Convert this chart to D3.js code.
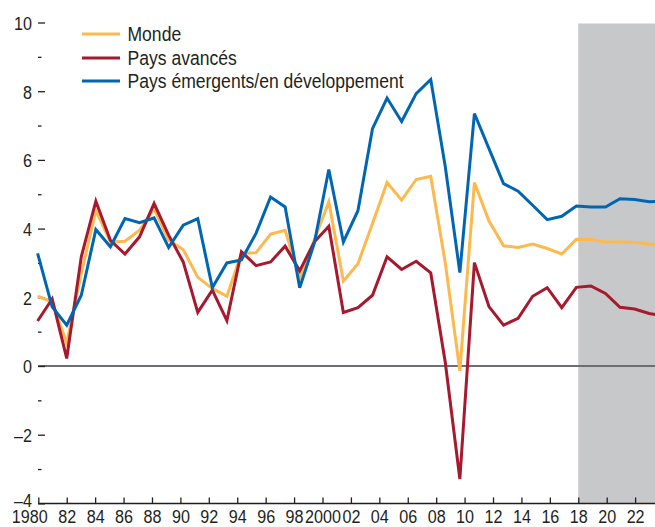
<!DOCTYPE html>
<html>
<head>
<meta charset="utf-8">
<script src="https://cdn.jsdelivr.net/npm/d3@7/dist/d3.min.js"></script>
<style>
  body { margin: 0; background: #fff; }
  text { font-family: "Liberation Sans", Arial, sans-serif; fill: #231f20; }
</style>
</head>
<body>
<svg width="655" height="527"></svg>
<script>
// annees 1980-2023
var annees = [1980, 1981, 1982, 1983, 1984, 1985, 1986, 1987, 1988, 1989,
              1990, 1991, 1992, 1993, 1994, 1995, 1996, 1997, 1998, 1999,
              2000, 2001, 2002, 2003, 2004, 2005, 2006, 2007, 2008, 2009,
              2010, 2011, 2012, 2013, 2014, 2015, 2016, 2017, 2018, 2019,
              2020, 2021, 2022, 2023];

var monde = [2.03, 1.87, 0.66, 2.7, 4.53, 3.61, 3.63, 3.95, 4.58, 3.66,
             3.39, 2.58, 2.26, 2.03, 3.28, 3.3, 3.84, 3.95, 2.55, 3.66,
             4.78, 2.47, 2.98, 4.15, 5.34, 4.83, 5.43, 5.52, 3.0, -0.14,
             5.34, 4.22, 3.5, 3.45, 3.55, 3.42, 3.26, 3.69, 3.68, 3.61,
             3.61, 3.6, 3.55, 3.53];

var avances = [1.31, 1.95, 0.22, 3.18, 4.8, 3.66, 3.26, 3.76, 4.73, 3.81,
               3.03, 1.56, 2.21, 1.32, 3.33, 2.92, 3.03, 3.49, 2.77, 3.61,
               4.07, 1.56, 1.7, 2.06, 3.18, 2.81, 3.05, 2.71, 0.1, -3.29,
               3.01, 1.73, 1.19, 1.39, 2.03, 2.28, 1.7, 2.29, 2.33, 2.11,
               1.71, 1.66, 1.53, 1.45];

var emergents = [3.28, 1.72, 1.19, 2.06, 3.97, 3.47, 4.29, 4.17, 4.31, 3.45,
                 4.1, 4.29, 2.28, 3.0, 3.09, 3.86, 4.92, 4.63, 2.28, 3.57,
                 5.72, 3.61, 4.52, 6.91, 7.8, 7.12, 7.93, 8.34, 5.8, 2.72,
                 7.35, 6.33, 5.31, 5.09, 4.68, 4.26, 4.36, 4.66, 4.63, 4.63,
                 4.87, 4.85, 4.78, 4.8];

var yTicks = [-4, -2, 0, 2, 4, 6, 8, 10];
var yMinor = [-3, -1, 1, 3, 5, 7, 9];
var xTicks = [1980, 1982, 1984, 1986, 1988, 1990, 1992, 1994, 1996, 1998, 2000,
              2002, 2004, 2006, 2008, 2010, 2012, 2014, 2016, 2018, 2020, 2022];
var xLabels = ["1980", "82", "84", "86", "88", "90", "92", "94", "96", "98", "2000",
               "02", "04", "06", "08", "10", "12", "14", "16", "18", "20", "22"];
var debutProjection = 2018;

var series = [
  {nom: "Monde", valeurs: monde, couleur: "#fdb94e"},
  {nom: "Pays avancés", valeurs: avances, couleur: "#a6192e"},
  {nom: "Pays émergents/en développement", valeurs: emergents, couleur: "#0066b3"}
];

// police etroite : on compresse Liberation Sans horizontalement
var etroitAxe = 0.85;
var etroitLegende = 0.9;

var svg = d3.select("svg");

var y = d3.scaleLinear().domain([-4, 10]).range([503.4, 22.5]);
// axe des x (graduations) et position des points
var xAxe = d3.scaleLinear().domain([1980, 2023.4]).range([38.3, 655]);
var x = d3.scaleLinear().domain([1980, 2023]).range([37.6, 663.7]);

/**
 * zone grise = projections
 */
svg.append("rect")
    .attr("x", xAxe(debutProjection))
    .attr("y", y(10) + 1)
    .attr("width", 655 - xAxe(debutProjection))
    .attr("height", y(-4) - y(10) - 1)
    .style("fill", "#c7c8ca");

// ligne du zero
svg.append("line")
    .attr("x1", xAxe(1980)).attr("x2", 655)
    .attr("y1", y(0)).attr("y2", y(0))
    .style("stroke", "#6d6e71")
    .style("stroke-width", 2);

// axe y : graduations principales
var yAxis = d3.axisLeft(y).tickValues(yTicks).tickSize(7).tickPadding(6)
    .tickFormat(function(d) { return d < 0 ? "\u2013" + Math.abs(d) : d; });
var gy = svg.append("g").attr("transform", "translate(45,0)").call(yAxis);
gy.select(".domain").remove();
gy.selectAll("line").style("stroke", "#231f20").style("stroke-width", 1.3);
gy.selectAll("text")
    .style("font-size", "19px")
    .attr("x", 0)
    .attr("dy", "0.36em")
    .attr("transform", function(d) {
      return "translate(-13," + (d === -4 ? -4 : 0) + ") scale(" + etroitAxe + ",1)";
    });

// axe y : graduations secondaires
var gy2 = svg.append("g").attr("transform", "translate(41.5,0)")
    .call(d3.axisLeft(y).tickValues(yMinor).tickSize(3.5).tickFormat(""));
gy2.select(".domain").remove();
gy2.selectAll("line").style("stroke", "#231f20").style("stroke-width", 1.3);

// axe x
var xAxis = d3.axisBottom(xAxe).tickValues(xTicks).tickSizeInner(-6).tickSizeOuter(0)
    .tickPadding(6.5)
    .tickFormat(function(d, i) { return xLabels[i]; });
var gx = svg.append("g").attr("transform", "translate(0," + y(-4) + ")").call(xAxis);
gx.select(".domain").style("stroke", "#231f20").style("stroke-width", 1.5)
    .attr("d", "M" + xAxe(1980) + ",0H655");
gx.selectAll("line").style("stroke", "#231f20").style("stroke-width", 1.3);
gx.selectAll("text")
    .style("font-size", "19px")
    .attr("transform", function(d) {
      return "translate(" + (d === 1980 ? -9 : 0) + ",0) scale(" + etroitAxe + ",1)";
    });

// courbes
var line = d3.line()
    .x(function(d, i) { return x(annees[i]); })
    .y(function(d) { return y(d); });

svg.selectAll("path.serie")
    .data(series)
    .enter().append("path")
    .attr("class", "serie")
    .attr("d", function(s) { return line(s.valeurs); })
    .style("fill", "none")
    .style("stroke", function(s) { return s.couleur; })
    .style("stroke-width", 3)
    .style("stroke-linejoin", "miter");

// legende
var legendY = [34, 58, 81];
var legend = svg.selectAll("g.legende")
    .data(series)
    .enter().append("g")
    .attr("class", "legende")
    .attr("transform", function(d, i) { return "translate(0," + legendY[i] + ")"; });

legend.append("line")
    .attr("x1", 82).attr("x2", 120)
    .style("stroke", function(s) { return s.couleur; })
    .style("stroke-width", 3);

legend.append("text")
    .attr("transform", "translate(127.5,7) scale(" + etroitLegende + ",1)")
    .style("font-size", "19.5px")
    .text(function(s) { return s.nom; });
</script>
</body>
</html>
